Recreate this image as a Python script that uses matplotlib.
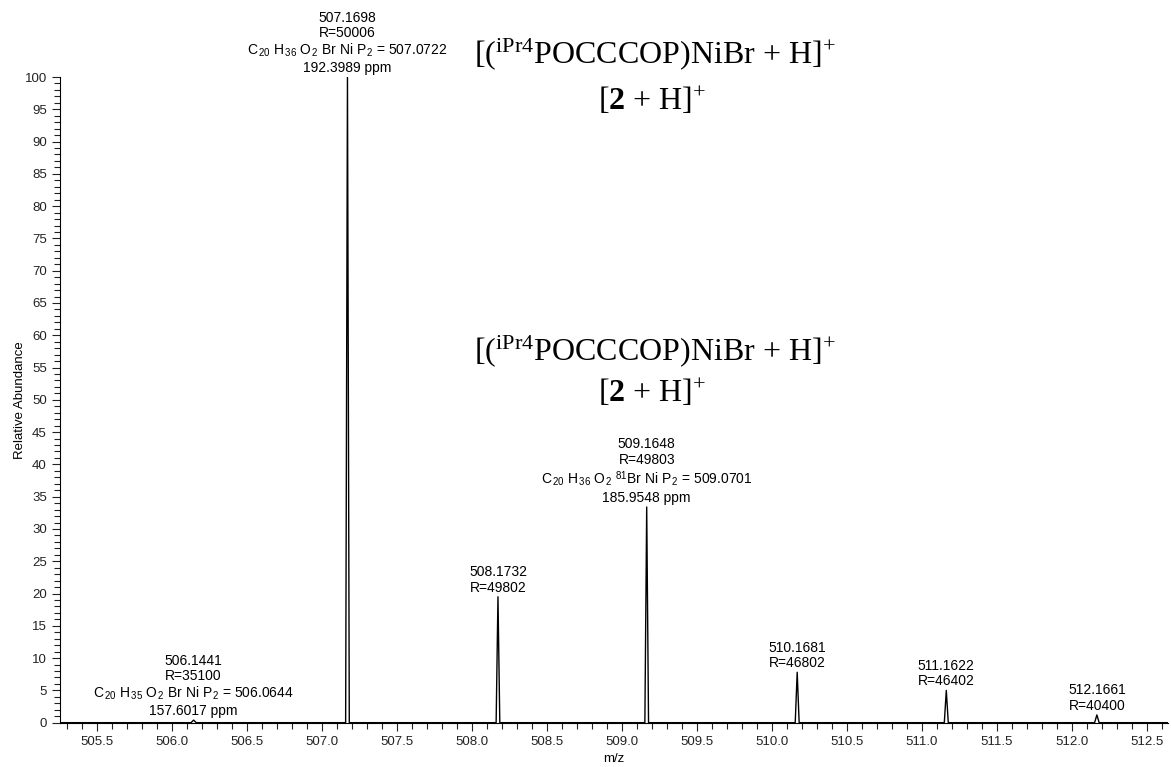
import matplotlib.pyplot as plt
from matplotlib.ticker import MultipleLocator

plt.rcParams['font.family'] = ['Liberation Sans', 'DejaVu Sans']
plt.rcParams['mathtext.fontset'] = 'custom'
plt.rcParams['mathtext.rm'] = 'Liberation Serif'
plt.rcParams['mathtext.it'] = 'Liberation Serif:italic'
plt.rcParams['mathtext.bf'] = 'Liberation Serif:bold'
plt.rcParams['mathtext.sf'] = 'Liberation Sans'

# peak list
mz = [506.1441, 507.1698, 508.1732, 509.1648, 510.1681, 511.1622, 512.1661]
abundance = [0.4, 100, 19.5, 33.4, 7.8, 5.0, 1.2]
resolution = [35100, 50006, 49802, 49803, 46802, 46402, 40400]
formula = {
    0: ('C$_{\\,\\mathsf{20}}$ H$_{\\,\\mathsf{35}}$ O$_{\\,\\mathsf{2}}$ Br Ni P$_{\\,\\mathsf{2}}$ = 506.0644', '157.6017 ppm'),
    1: ('C$_{\\,\\mathsf{20}}$ H$_{\\,\\mathsf{36}}$ O$_{\\,\\mathsf{2}}$ Br Ni P$_{\\,\\mathsf{2}}$ = 507.0722', '192.3989 ppm'),
    3: ('C$_{\\,\\mathsf{20}}$ H$_{\\,\\mathsf{36}}$ O$_{\\,\\mathsf{2}}$ $^{\\mathsf{81}}$Br Ni P$_{\\,\\mathsf{2}}$ = 509.0701', '185.9548 ppm'),
}

xmin, xmax = 505.253, 512.64

# build a stick-like profile: narrow triangle per peak on a zero baseline
px, py = [xmin], [0]
for m, a, r in zip(mz, abundance, resolution):
    hw = 1.2 * m / r
    px += [m - hw, m, m + hw]
    py += [0, a, 0]
px.append(xmax)
py.append(0)

fig = plt.figure(figsize=(11.71, 7.67), dpi=100)
ax = fig.add_axes([0.0512, 0.0578, 0.9462, 0.8418])
ax.plot(px, py, color='black', lw=1.0)

ax.set_xlim(xmin, xmax)
ax.set_ylim(0, 100)
for s in ['top', 'right']:
    ax.spines[s].set_visible(False)
ax.xaxis.set_major_locator(MultipleLocator(0.5))
ax.xaxis.set_minor_locator(MultipleLocator(0.1))
ax.yaxis.set_major_locator(MultipleLocator(5))
ax.yaxis.set_minor_locator(MultipleLocator(1))
ax.xaxis.set_major_formatter(lambda v, p: f'{v:.1f}')
ax.tick_params(which='major', length=6, width=0.8, labelsize=9.5, colors='#222222')
ax.tick_params(which='minor', length=4, width=0.8, colors='#222222')
ax.set_xlabel('m/z', fontsize=9.5, labelpad=4)
ax.set_ylabel('Relative Abundance', fontsize=9.5, labelpad=-1)

for i, (m, a, r) in enumerate(zip(mz, abundance, resolution)):
    lines = [f'{m:.4f}', f'R={r}']
    if i in formula:
        lines += list(formula[i])
    ax.annotate('\n'.join(lines), xy=(m, a), xytext=(0, 1.5), textcoords='offset points',
                ha='center', va='bottom', fontsize=10, linespacing=1.15)

title1 = '[($^{\\mathrm{iPr4}}$POCCCOP)NiBr + H]$^{+}$'
title2 = '[$\\mathbf{2}$ + H]$^{+}$'
for y1, y2 in [(0.93, 0.868), (0.542, 0.487)]:
    fig.text(0.559, y1, title1, ha='center', va='center', fontsize=23, family='Liberation Serif')
    fig.text(0.557, y2, title2, ha='center', va='center', fontsize=23, family='Liberation Serif')

fig.savefig('out.png', dpi=100)
